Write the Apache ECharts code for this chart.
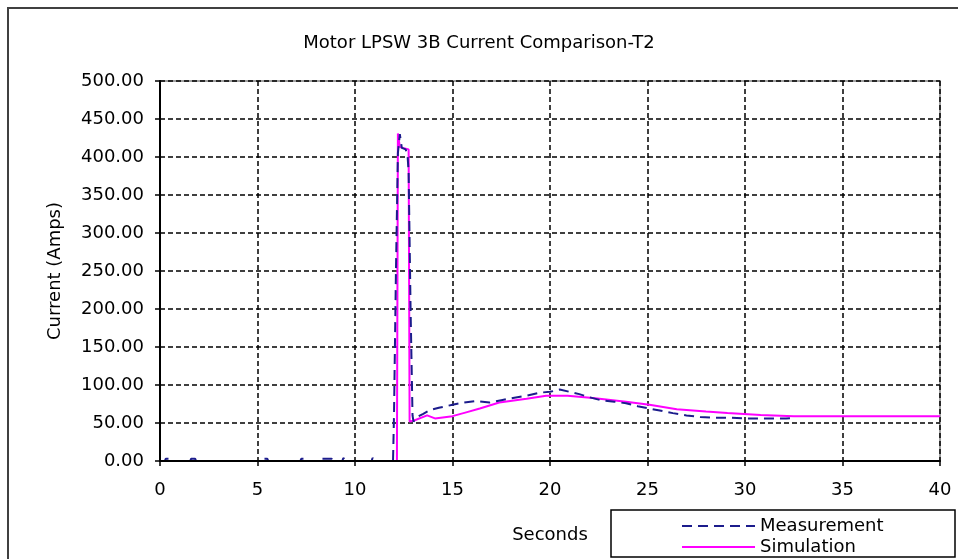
<!DOCTYPE html>
<html>
<head>
<meta charset="utf-8">
<script src="https://cdn.jsdelivr.net/npm/echarts@6/dist/echarts.min.js"></script>
<style>
html,body{margin:0;padding:0;background:#fff;}
#chart{width:958px;height:559px;}
</style>
</head>
<body>
<div id="chart"></div>
<script>
// ---- Data ----
var chartTitle = 'Motor LPSW 3B Current Comparison-T2';
var xAxisName = 'Seconds';
var yAxisName = 'Current (Amps)';
var seriesNames = ['Measurement', 'Simulation'];

var measT = [0, 0.25, 0.3, 0.6, 0.65, 1.55, 1.6, 1.8, 1.85, 5.25, 5.3, 5.5, 5.55, 7.2, 7.25, 7.5, 7.55,
  8.15, 8.2, 8.8, 8.85, 9.35, 9.4, 9.5, 9.55, 10.85, 10.9, 11.0, 11.05, 11.95,
  12.0, 12.1, 12.2, 12.3, 12.4, 12.6, 12.7, 12.75, 12.85, 12.95, 13.0,
  13.2, 13.5, 13.85, 14.3, 15.0, 15.6, 16.2, 16.9, 17.5, 18.1, 18.8, 19.5, 20.0, 20.5,
  21.0, 21.5, 22.0, 22.6, 23.3, 23.9, 24.5, 25.1, 25.7, 26.3, 27.0, 27.7, 28.4, 29.1,
  30.1, 31.0, 32.1, 32.6];
var measV = [0, 0, 3, 3, 0, 0, 3, 3, 0, 0, 3, 3, 0, 0, 3, 3, 0,
  0, 3, 3, 0, 0, 4, 4, 0, 0, 4, 4, 0, 0,
  60, 250, 405, 430, 412, 410, 400, 380, 200, 60, 52,
  58, 62, 67, 70, 74, 77, 79, 77, 80, 83, 86, 90, 91, 94,
  91, 88, 84, 80, 78, 76, 72, 69, 66, 63, 60, 58, 57, 57,
  56, 56, 56, 57];

var simT = [0, 12.15, 12.2, 12.3, 12.75, 12.8, 13.0, 13.7, 14.1, 15.0, 15.7, 16.4, 17.4,
  18.8, 19.8, 20.9, 22.2, 23.9, 25.1, 26.5, 28.0, 29.1, 30.8, 32.5, 40];
var simV = [0, 0, 431, 413, 410, 52, 53, 60, 56, 59, 64, 69, 77,
  82, 86, 86, 83, 78, 74, 68, 65, 63, 60.5, 59, 59];

function pairs(ts, vs) {
  var out = [];
  for (var i = 0; i < ts.length; i++) out.push([ts[i], vs[i]]);
  return out;
}

var FONT = 'DejaVu Sans';
var chart = echarts.init(document.getElementById('chart'));
var option = {
  backgroundColor: '#ffffff',
  animation: false,
  textStyle: { fontFamily: FONT },
  title: {
    text: chartTitle,
    left: 'center',
    top: 29,
    textStyle: { fontFamily: FONT, fontSize: 18, fontWeight: 'normal', color: '#000' }
  },
  grid: {
    left: 160, top: 81, right: 18, bottom: 98,
    show: true, borderColor: '#a0a0a0', borderWidth: 2, backgroundColor: 'transparent'
  },
  legend: {
    data: [
      { name: seriesNames[0] },
      { name: seriesNames[1] }
    ],
    orient: 'vertical',
    left: 681,
    top: 516,
    itemWidth: 73,
    itemHeight: 12,
    itemGap: 1,
    padding: 0,
    itemStyle: { opacity: 0 },
    textStyle: { fontFamily: FONT, fontSize: 18, color: '#000', lineHeight: 20 }
  },
  xAxis: [{
    type: 'value',
    min: 0, max: 40, interval: 5,
    name: xAxisName,
    nameLocation: 'middle',
    nameGap: 65,
    nameTextStyle: { fontFamily: FONT, fontSize: 18, color: '#000' },
    axisLine: { show: false },
    axisTick: { show: true, length: 5, lineStyle: { color: '#000', width: 1.5 } },
    axisLabel: { fontFamily: FONT, fontSize: 18, color: '#000', margin: 20 },
    splitLine: { show: true, lineStyle: { color: '#000', width: 1.5, type: [5, 3] } }
  }, {
    type: 'value',
    min: 0, max: 40, interval: 5,
    position: 'bottom',
    z: 10,
    axisLine: { show: true, onZero: false, lineStyle: { color: '#000', width: 2 } },
    axisTick: { show: false },
    axisLabel: { show: false },
    splitLine: { show: false }
  }],
  yAxis: {
    type: 'value',
    min: 0, max: 500, interval: 50,
    name: yAxisName,
    nameLocation: 'middle',
    nameGap: 96,
    nameTextStyle: { fontFamily: FONT, fontSize: 18, color: '#000' },
    axisLine: { show: true, lineStyle: { color: '#000', width: 2 } },
    axisTick: { show: true, length: 5, lineStyle: { color: '#000', width: 1.5 } },
    axisLabel: {
      fontFamily: FONT, fontSize: 18, color: '#000', margin: 16,
      formatter: function (v) { return v.toFixed(2); }
    },
    splitLine: { show: true, lineStyle: { color: '#000', width: 1.5, type: [5, 3] } }
  },
  graphic: [
    { type: 'rect', z: -10, shape: { x: 8, y: 8, width: 960, height: 570 },
      style: { fill: 'none', stroke: '#404040', lineWidth: 2 } },
    { type: 'rect', z: 1, shape: { x: 611, y: 510, width: 344, height: 47 },
      style: { fill: '#ffffff', stroke: '#000000', lineWidth: 1.5 } }
  ],
  series: [
    {
      name: seriesNames[0],
      type: 'line',
      xAxisIndex: 0,
      data: pairs(measT, measV),
      showSymbol: false,
      symbol: 'none',
      color: '#1c1c8c',
      lineStyle: { color: '#1c1c8c', width: 2, type: [10, 6] },
      z: 3
    },
    {
      name: seriesNames[1],
      type: 'line',
      xAxisIndex: 0,
      data: pairs(simT, simV),
      showSymbol: false,
      symbol: 'none',
      color: '#ff00ff',
      lineStyle: { color: '#ff00ff', width: 2 },
      z: 2
    }
  ]
};
chart.setOption(option);
</script>
</body>
</html>
